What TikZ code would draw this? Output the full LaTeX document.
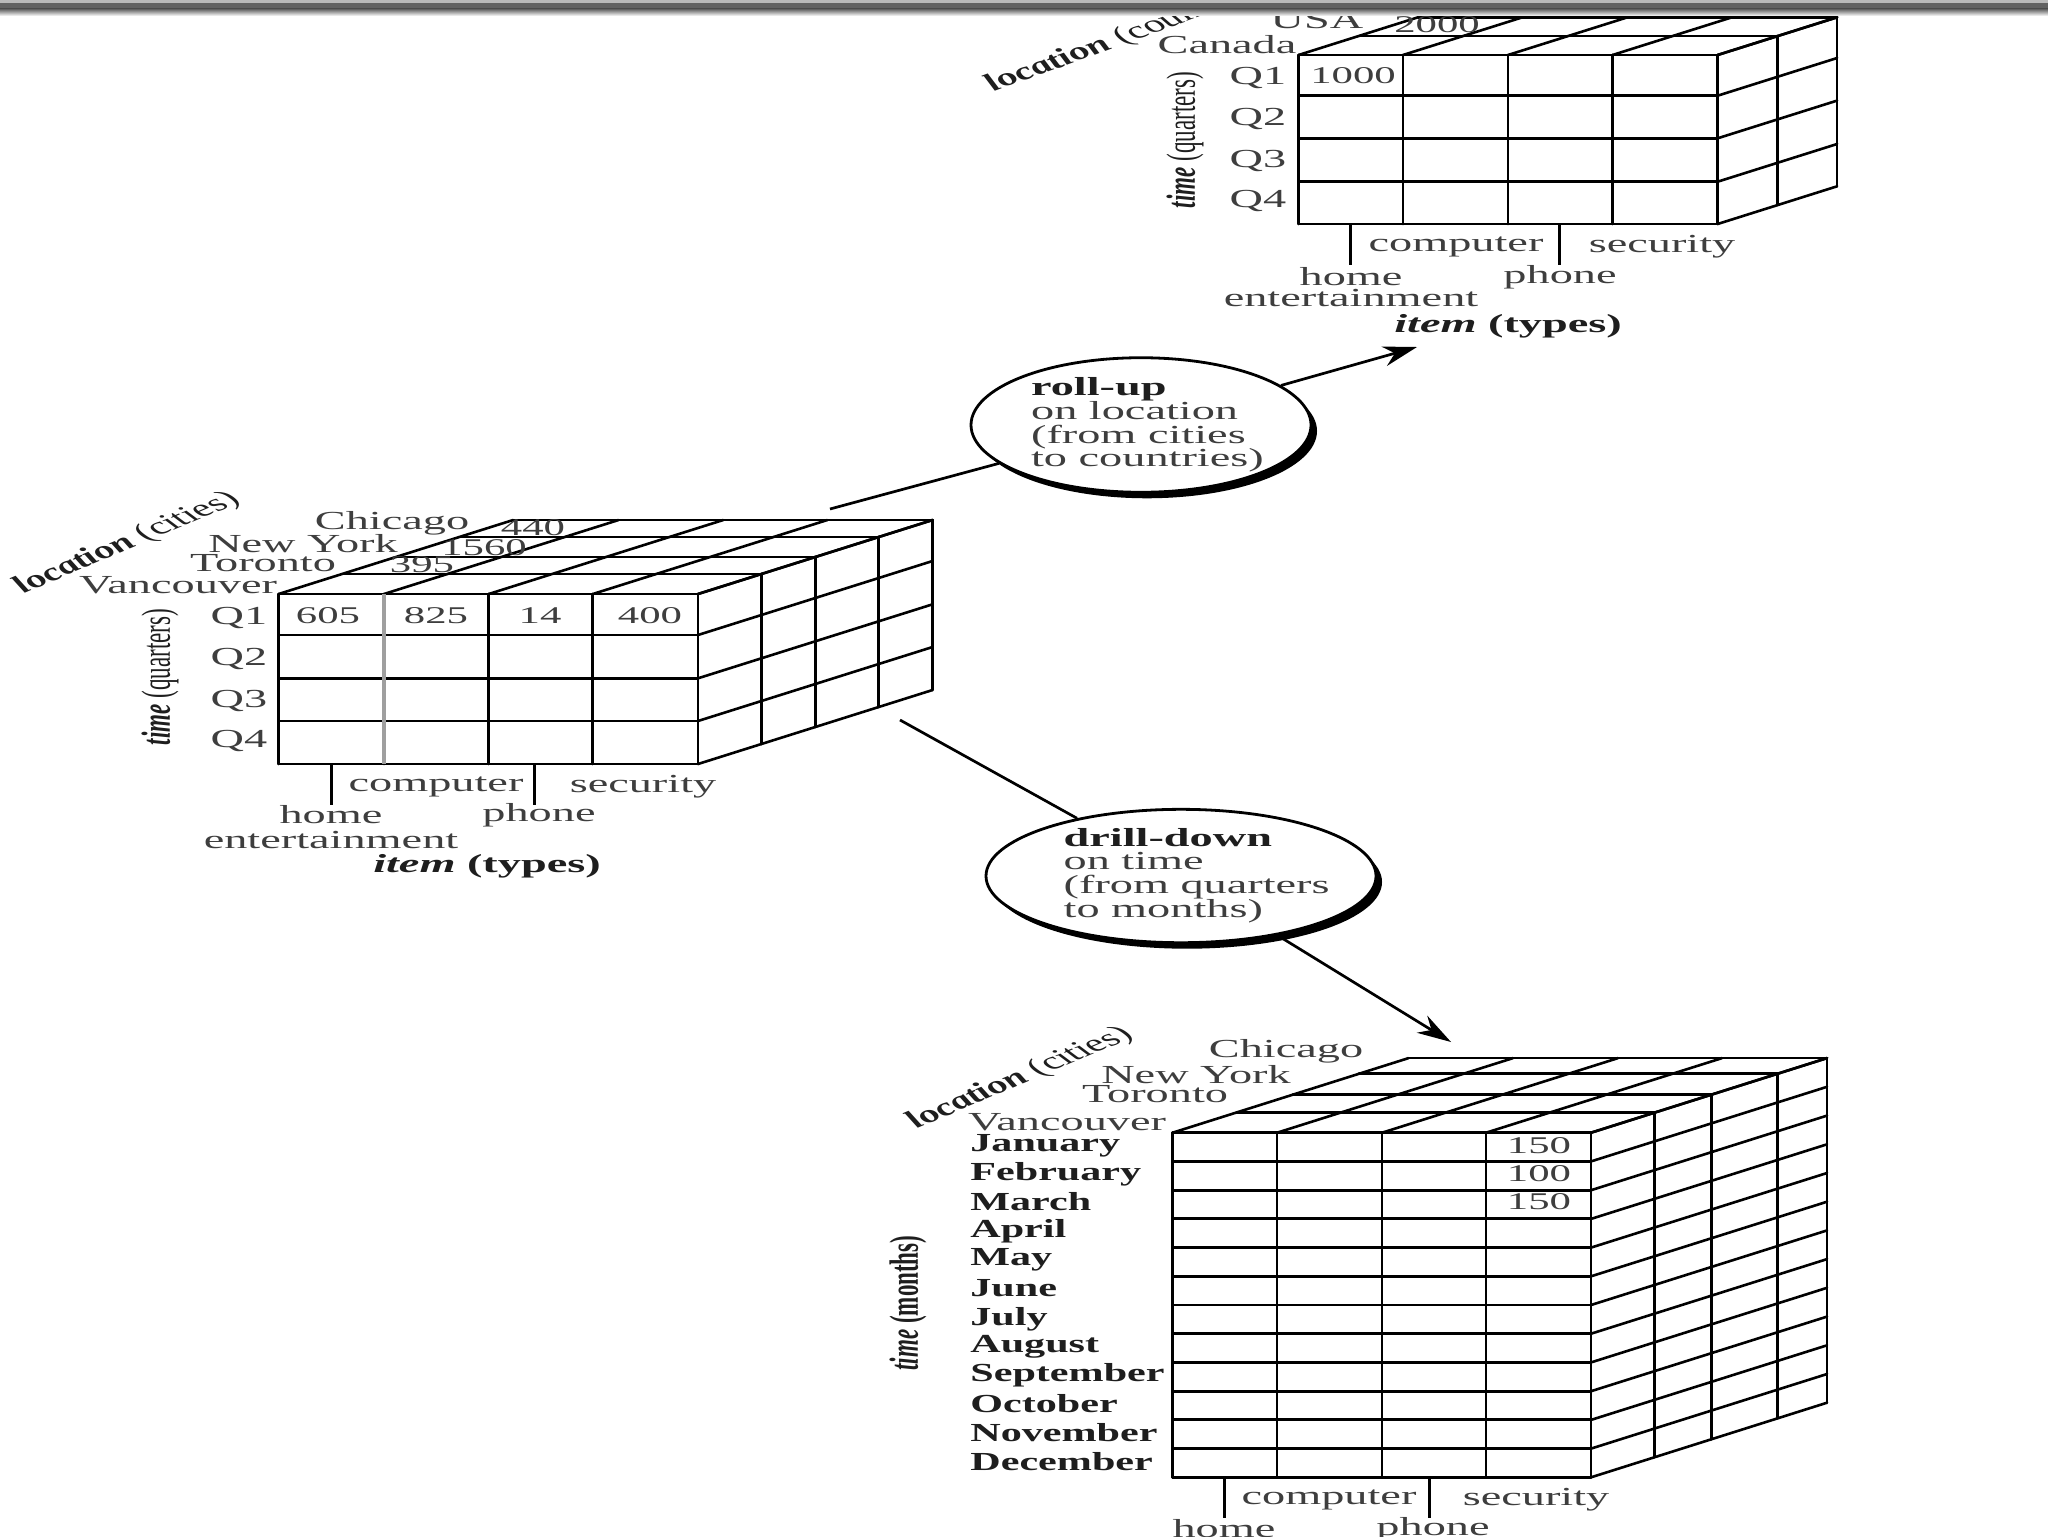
\documentclass[tikz,border=0pt]{standalone}
\usepackage{fontspec}
\usepackage{graphicx}
\setmainfont{Liberation Serif}
\usetikzlibrary{arrows.meta,shapes.geometric,shadows}
\definecolor{txtgrey}{HTML}{3E3E3E}
\definecolor{txtdark}{HTML}{1E1E1E}
\newcommand\sx[1]{\scalebox{1.78}[1]{#1}}
\newcommand\sxb[1]{\scalebox{1.62}[1]{\bfseries #1}}
\newcommand\rotlab[2]{\scalebox{1.78}[1]{\rotatebox{#1}{#2}}}
% #1 xs, #2 ys, #3 left, #4 right, #5 top, #6 bottom, #7 dx, #8 dy, #9 depth fractions
\newcommand\cubegrid[9]{%
  \foreach \f in {#9} {%
    \draw[cubeline] ({#3+\f*(#7)},{#5+\f*(#8)}) -- ({#4+\f*(#7)},{#5+\f*(#8)});
    \draw[cubeline] ({#4+\f*(#7)},{#5+\f*(#8)}) -- ({#4+\f*(#7)},{#6+\f*(#8)});
  }%
  \foreach \x in {#1} {\draw[cubeline] (\x,#5) -- ({\x+(#7)},{#5+(#8)});}%
  \foreach \y in {#2} {\draw[cubeline] (#4,\y) -- ({#4+(#7)},{\y+(#8)});}%
  \foreach \x in {#1} {\draw[frontline] (\x,#5) -- (\x,#6);}%
  \foreach \y in {#2} {\draw[frontline] (#3,\y) -- (#4,\y);}%
}
\tikzset{
  cubeline/.style={line width=1.3pt,black,line cap=round},
  frontline/.style={line width=1.45pt,black,line cap=round},
  tickline/.style={line width=1.5pt,black},
  lab/.style={inner sep=0pt,yshift=-1pt,text=txtgrey,font=\fontsize{13}{14}\selectfont},
  num/.style={inner sep=0pt,text=txtgrey,font=\fontsize{12}{14}\selectfont},
  boldlab/.style={inner sep=0pt,text=txtdark,font=\fontsize{13}{14}\selectfont},
  axislab/.style={inner sep=0pt,text=txtdark,font=\fontsize{11.5}{14}\selectfont},
  loclab/.style={inner sep=0pt,text=txtdark,font=\fontsize{12}{14}\selectfont},
  month/.style={inner sep=0pt,anchor=west,yshift=-0.5pt,text=txtdark,font=\fontsize{13}{14}\selectfont},
  opbubble/.style={ellipse,draw=black,line width=1.4pt,fill=white,inner sep=0pt,
    text=txtgrey,font=\fontsize{13}{10.75}\selectfont,
    general shadow={shadow xshift=3pt,shadow yshift=-3pt,fill=black}},
  oparrow/.style={line width=1.35pt,black,-{Stealth[length=17pt,width=10pt]}},
  opline/.style={line width=1.35pt,black},
}
\begin{document}
\begin{tikzpicture}[x=0.5pt,y=-0.5pt]
\useasboundingbox (0,0) rectangle (2048,1536);
\clip (0,0) rectangle (2048,1536);
\fill[white] (0,0) rectangle (2048,1536);

% ---- top cube (countries)
\cubegrid{1298.5,1403,1508,1612.5,1717.6}{55,95.7,138.3,181.7,224}{1298.5}{1717.6}{55}{224}{119.5}{-37.7}{0.5,1}
\coordinate (ctA) at (1350,224); \coordinate (ctAe) at (1350,265);
\coordinate (ctB) at (1559.7,224); \coordinate (ctBe) at (1559.7,265);
\draw[tickline] (ctA) -- (ctAe);
\draw[tickline] (ctB) -- (ctBe);
\node[lab] (t-usa) at (1317,18) {\sx{USA}};
\node[lab] (t-can) at (1227,43) {\sx{Canada}};
\node[lab] (t-q1) at (1258,76) {\sx{Q1}};
\node[lab] (t-q2) at (1258,117) {\sx{Q2}};
\node[lab] (t-q3) at (1258,159) {\sx{Q3}};
\node[lab] (t-q4) at (1258,199) {\sx{Q4}};
\node[num] (t-1000) at (1353,76) {\sx{1000}};
\node[num] (t-2000) at (1437,25) {\sx{2000}};
\node[lab] (t-comp) at (1456,245) {\sx{computer}};
\node[lab] (t-sec) at (1662,245) {\sx{security}};
\node[lab] (t-home) at (1351,275) {\sx{home}};
\node[lab] (t-phone) at (1560,275) {\sx{phone}};
\node[lab] (t-ent) at (1351,296) {\sx{entertainment}};
\node[boldlab] (t-item) at (1508,326) {\sx{\textbf{\textit{item}} \textbf{(types)}}};
\node[axislab] (t-time) at (1185,140) {\rotlab{90}{\textbf{\textit{time}} (quarters)}};
\node[loclab] (t-loc) at (1131,35) {\rotlab{33}{\textbf{\textit{location}} (countries)}};

% ---- left cube (cities, quarters)
\cubegrid{278.6,384,488.7,592.8,698}{594,635,678.3,721,764}{278.6}{698}{594}{764}{234.6}{-74}{0.27,0.5,0.77,1}
\draw[line width=2pt,gray!75] (384,594) -- (384,764);
\coordinate (clA) at (331,764); \coordinate (clAe) at (331,805);
\coordinate (clB) at (534.6,764); \coordinate (clBe) at (534.6,805);
\draw[tickline] (clA) -- (clAe);
\draw[tickline] (clB) -- (clBe);
\node[lab] (l-chi) at (392,521) {\sx{Chicago}};
\node[lab] (l-ny) at (303,542) {\sx{New York}};
\node[lab] (l-tor) at (263,561) {\sx{Toronto}};
\node[lab] (l-van) at (178,583) {\sx{Vancouver}};
\node[lab] (l-q1) at (239,616) {\sx{Q1}};
\node[lab] (l-q2) at (239,657) {\sx{Q2}};
\node[lab] (l-q3) at (239,699) {\sx{Q3}};
\node[lab] (l-q4) at (239,739) {\sx{Q4}};
\node[num] (l-605) at (328,616) {\sx{605}};
\node[num] (l-825) at (436,616) {\sx{825}};
\node[num] (l-14) at (540,616) {\sx{14}};
\node[num] (l-400) at (650,616) {\sx{400}};
\node[num] (l-440) at (533,528) {\sx{440}};
\node[num] (l-1560) at (484,548) {\sx{1560}};
\node[num] (l-395) at (422,565) {\sx{395}};
\node[lab] (l-comp) at (436,785) {\sx{computer}};
\node[lab] (l-sec) at (643,785) {\sx{security}};
\node[lab] (l-home) at (331,813) {\sx{home}};
\node[lab] (l-phone) at (539,813) {\sx{phone}};
\node[lab] (l-ent) at (331,838) {\sx{entertainment}};
\node[boldlab] (l-item) at (487,866) {\sx{\textbf{\textit{item}} \textbf{(types)}}};
\node[axislab] (l-time) at (160,677) {\rotlab{90}{\textbf{\textit{time}} (quarters)}};
\node[loclab] (l-loc) at (127,543) {\rotlab{37}{\textbf{\textit{location}} (cities)}};

% ---- bottom cube (cities, months)
\cubegrid{1172.5,1277,1382,1486,1591}{1132.7,1161.4,1190.2,1218.9,1247.6,1276.3,1305,1333.7,1362.4,1391.2,1419.9,1448.6,1477.3}{1172.5}{1591}{1132.7}{1477.3}{236}{-74.6}{0.27,0.51,0.79,1}
\coordinate (cbA) at (1224,1477.3); \coordinate (cbAe) at (1224,1518);
\coordinate (cbB) at (1429,1477.3); \coordinate (cbBe) at (1429,1518);
\draw[tickline] (cbA) -- (cbAe);
\draw[tickline] (cbB) -- (cbBe);
\node[lab] (b-chi) at (1286,1049) {\sx{Chicago}};
\node[lab] (b-ny) at (1196,1073) {\sx{New York}};
\node[lab] (b-tor) at (1155,1092) {\sx{Toronto}};
\node[lab] (b-van) at (1067,1120) {\sx{Vancouver}};
\node[month] (m1) at (970,1145) {\sxb{January}};
\node[month] (m2) at (970,1173) {\sxb{February}};
\node[month] (m3) at (970,1201) {\sxb{March}};
\node[month] (m4) at (970,1230) {\sxb{April}};
\node[month] (m5) at (970,1259) {\sxb{May}};
\node[month] (m6) at (970,1287) {\sxb{June}};
\node[month] (m7) at (970,1318) {\sxb{July}};
\node[month] (m8) at (970,1346) {\sxb{August}};
\node[month] (m9) at (970,1374) {\sxb{September}};
\node[month] (m10) at (970,1403) {\sxb{October}};
\node[month] (m11) at (970,1432) {\sxb{November}};
\node[month] (m12) at (970,1461) {\sxb{December}};
\node[num] (b-150a) at (1539,1146) {\sx{150}};
\node[num] (b-100) at (1539,1174) {\sx{100}};
\node[num] (b-150b) at (1539,1202) {\sx{150}};
\node[lab] (b-comp) at (1329,1498) {\sx{computer}};
\node[lab] (b-sec) at (1536,1498) {\sx{security}};
\node[lab] (b-home) at (1224,1527) {\sx{home}};
\node[lab] (b-phone) at (1433,1527) {\sx{phone}};
\node[axislab] (b-time) at (908,1303) {\rotlab{90}{\textbf{\textit{time}} \textbf{(months)}}};
\node[loclab] (b-loc) at (1020,1078) {\rotlab{37}{\textbf{\textit{location}} (cities)}};

% ---- connectors and operation bubbles
\coordinate (rollstart) at (830,509);
\coordinate (rollend) at (1417,347);
\coordinate (drillstart) at (900,720);
\coordinate (drillend) at (1451,1042);
\node[opbubble,minimum width=170pt,minimum height=57pt] (rollup) at (1141,425)
  {\sx{\def\arraystretch{0.88}\begin{tabular}{@{\hspace{1.8pt}}l@{\hspace{-1.8pt}}}\textcolor{txtdark}{\textbf{roll-up}}\\ on location\\ (from cities\\ to countries)\end{tabular}}};
\node[opbubble,minimum width=195pt,minimum height=57pt] (drill) at (1181,876)
  {\sx{\def\arraystretch{0.88}\begin{tabular}{@{\hspace{4.4pt}}l@{\hspace{-4.4pt}}}\textcolor{txtdark}{\textbf{drill-down}}\\ on time\\ (from quarters\\ to months)\end{tabular}}};
\draw[opline] (rollstart) -- (rollup);
\draw[oparrow] (rollup) -- (rollend);
\draw[opline] (drillstart) -- (drill);
\draw[oparrow] (drill) -- (drillend);

% ---- window edge at the top
\fill[gray!55] (0,0) rectangle (2048,3);
\fill[black!62] (0,3) rectangle (2048,9);
\shade[top color=black!62,bottom color=white] (0,9) rectangle (2048,16);
\end{tikzpicture}
\end{document}
